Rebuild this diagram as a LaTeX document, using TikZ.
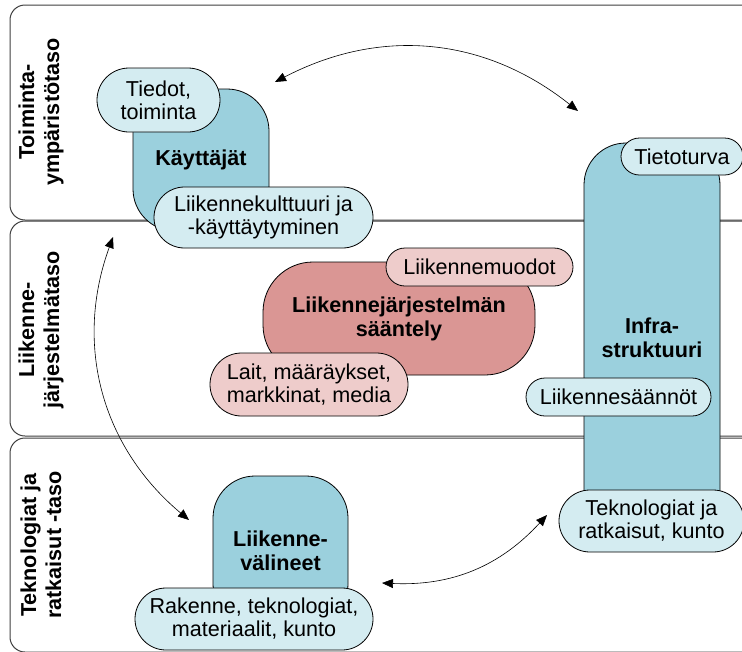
\documentclass[tikz,border=0pt]{standalone}
\usepackage{fontspec}
\setmainfont{Liberation Sans}
\usetikzlibrary{arrows.meta,shapes.misc}
\definecolor{tealfill}{HTML}{9BD0DD}
\definecolor{lightfill}{HTML}{D4ECF1}
\definecolor{redfill}{HTML}{DA9694}
\definecolor{pinkfill}{HTML}{EECCCB}
\begin{document}
\begin{tikzpicture}[x=1pt,y=-1pt,
  every node/.style={font=\fontsize{21.6}{23}\selectfont, align=center, inner sep=0pt},
  band/.style={draw=black!75, line width=1pt, rounded corners=15pt, fill=white},
  layerlabel/.style={rotate=90, font=\fontsize{21.6}{25}\selectfont\bfseries},
  mainshape/.style={draw=black, line width=0.8pt, fill=tealfill, rounded corners=42pt, font=\fontsize{21.6}{24}\selectfont\bfseries},
  redshape/.style={mainshape, fill=redfill, rounded corners=50pt},
  bubble/.style={rounded rectangle, draw=black, line width=0.8pt, fill=lightfill},
  pinkbubble/.style={bubble, fill=pinkfill},
  link/.style={line width=0.6pt, {Triangle[length=11pt,width=9pt]}-{Triangle[length=11pt,width=9pt]}}
]
\useasboundingbox (0,0) rectangle (742,651);
\clip (0,0) rectangle (742,651);
\fill[white] (0,0) rectangle (742,651);

% layer bands
\draw[band] (10,5) rectangle (775,220);
\draw[band] (10,221) rectangle (775,436);
\draw[band] (10,438) rectangle (775,652);

\node[layerlabel] (l1) at (41,112) {Toiminta-\\ympäristötaso};
\node[layerlabel] (l2) at (41,330) {Liikenne-\\järjestelmätaso};
\node[layerlabel] (l3) at (41,545) {Teknologiat ja\\ratkaisut -taso};

% arrows
\coordinate (a1s) at (275,82);
\coordinate (a1e) at (578,111);
\coordinate (a2s) at (113,237);
\coordinate (a2e) at (189,520);
\coordinate (a3s) at (382,583);
\coordinate (a3e) at (547,515);
\draw[link] (a1s) to[bend left=33] (a1e);
\draw[link] (a2s) to[bend right=35] (a2e);
\draw[link] (a3s) to[bend right=25] (a3e);

% main shapes
\node[mainshape, minimum width=136pt, minimum height=142pt] (kay) at (201,160) {Käyttäjät};
\node[mainshape, minimum width=136pt, minimum height=390pt] (infra) at (652,338) {Infra-\\struktuuri};
\node[mainshape, minimum width=135pt, minimum height=150pt] (vali) at (280.5,551) {Liikenne-\\välineet};
\node[redshape, minimum width=272pt, minimum height=113pt] (saan) at (399,318.5) {Liikennejärjestelmän\\sääntely};

% bubbles
\node[bubble, minimum width=123pt, minimum height=64pt] (tiedot) at (158.5,100) {Tiedot,\\toiminta};
\node[bubble, minimum width=219pt, minimum height=61pt] (kult) at (263.5,217.5) {Liikennekulttuuri ja\\-käyttäytyminen};
\node[bubble, minimum width=122pt, minimum height=37pt] (tieto) at (682,156.5) {Tietoturva};
\node[pinkbubble, minimum width=187pt, minimum height=38pt] (muodot) at (479.5,267) {Liikennemuodot};
\node[pinkbubble, minimum width=198pt, minimum height=63pt] (lait) at (309,384.5) {Lait, määräykset,\\markkinat, media};
\node[bubble, minimum width=185pt, minimum height=38pt] (saannot) at (618.5,397) {Liikennesäännöt};
\node[bubble, minimum width=185pt, minimum height=62pt] (tekn) at (651.5,521) {Teknologiat ja\\ratkaisut, kunto};
\node[bubble, minimum width=238pt, minimum height=62pt] (rak) at (254,619) {Rakenne, teknologiat,\\materiaalit, kunto};
\end{tikzpicture}
\end{document}
